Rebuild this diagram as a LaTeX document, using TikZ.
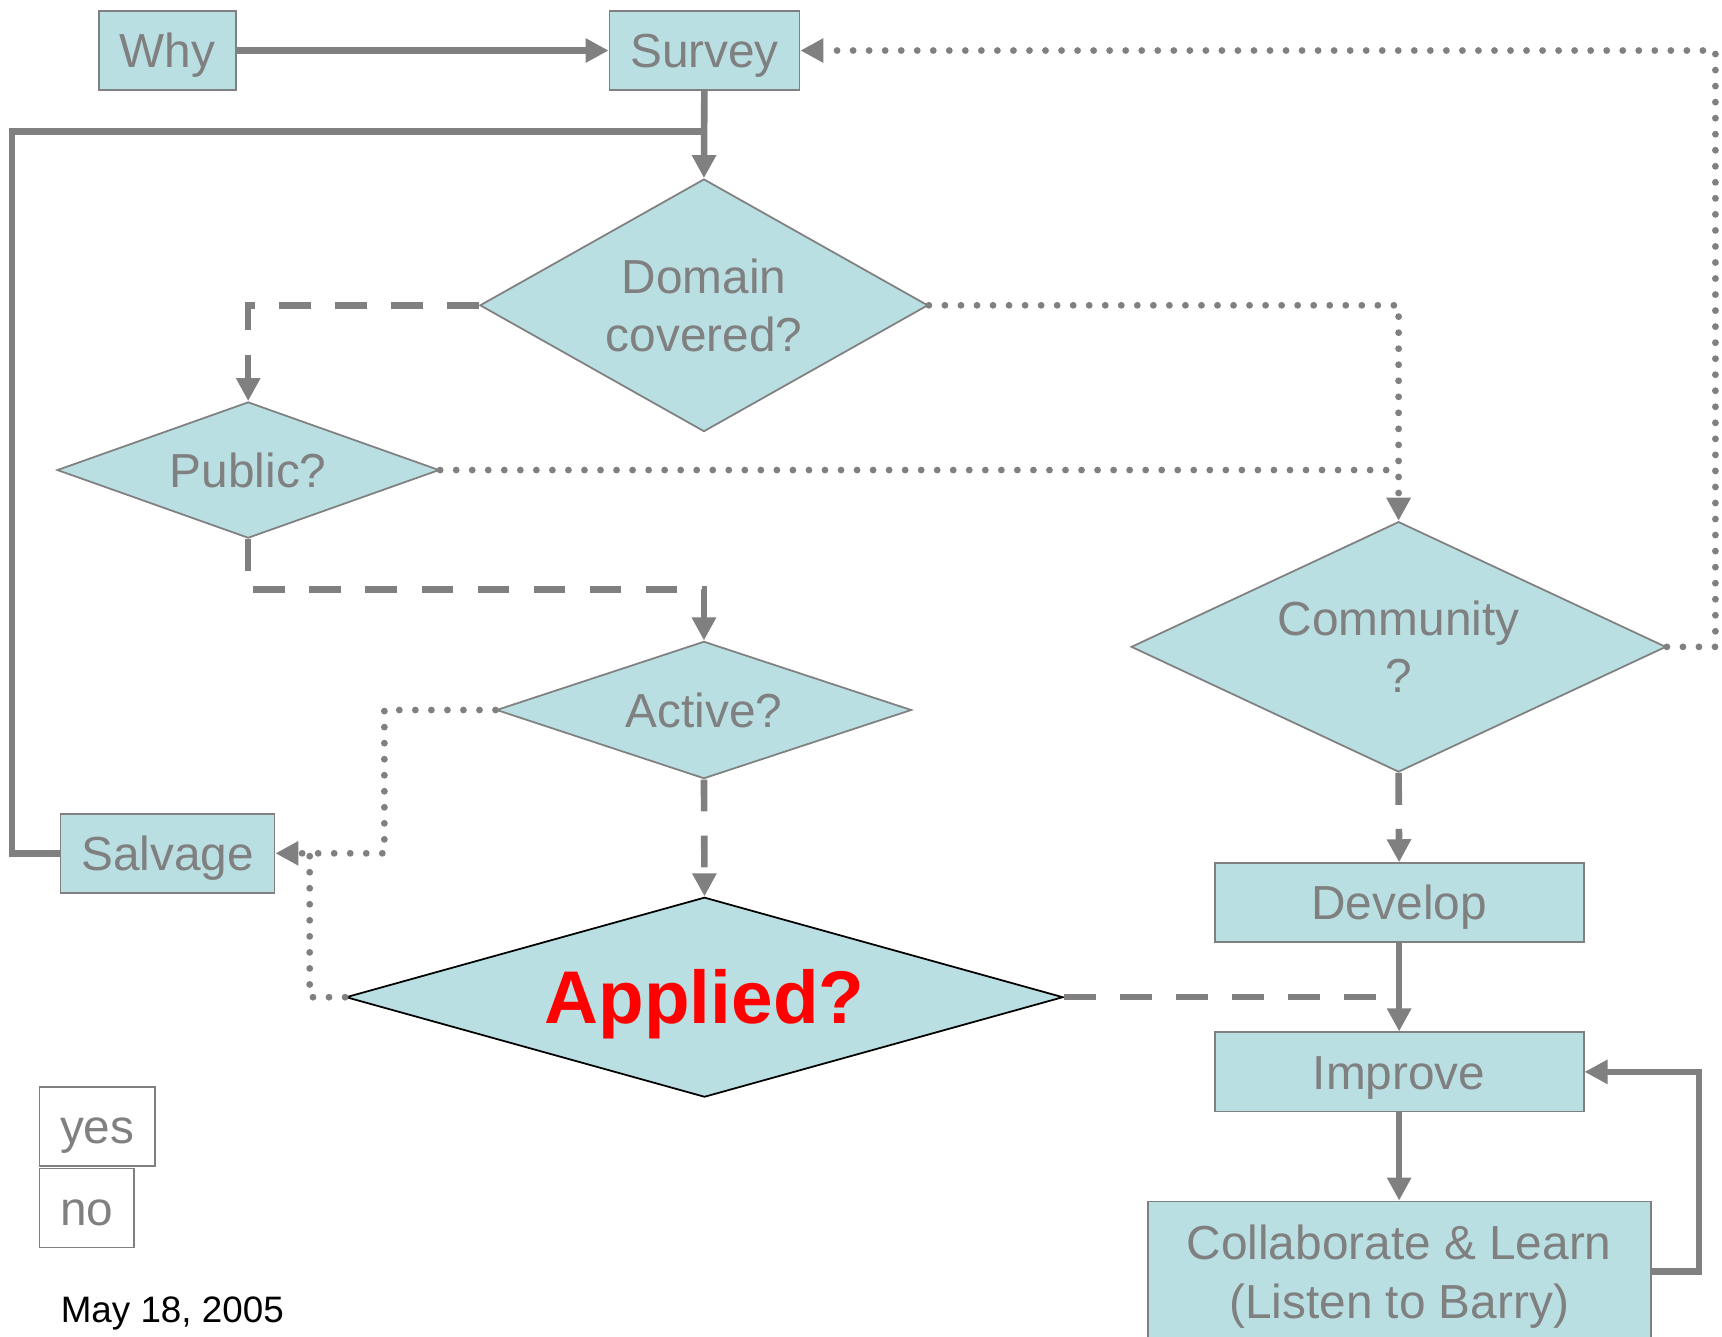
\documentclass[tikz,border=0pt]{standalone}
\usepackage{fontspec}
\setmainfont{Liberation Sans}
\usetikzlibrary{shapes.geometric,arrows.meta}
\definecolor{boxfill}{HTML}{B9DFE2}
\definecolor{ink}{HTML}{808080}
\definecolor{hot}{HTML}{FF0000}

\begin{document}
\begin{tikzpicture}[x=0.5pt,y=-0.5pt,
  txt/.style={font=\fontsize{21.75}{26}\selectfont, text=ink},
  stepbox/.style={txt, draw=ink, line width=0.8pt, fill=boxfill, rectangle,
    inner sep=0pt, text height=15.6pt, text depth=0pt},
  decide/.style={txt, draw=ink, line width=0.8pt, fill=boxfill, diamond,
    inner sep=0pt, align=center, text height=15.6pt, text depth=0pt},
  twoline/.style={align=center, text height=15.6pt+#1, text depth=0pt},
  twoline/.default=26pt,
  legendbox/.style={txt, draw=ink, line width=0.8pt, fill=white, rectangle,
    inner sep=0pt, text height=15.6pt, text depth=0pt},
  tip/.style={-{Triangle[length=10.5pt,width=10.5pt]}},
  solidway/.style={draw=ink, line width=3pt},
  dashway/.style={draw=ink, line width=3pt, dash pattern=on 14.5pt off 11pt},
  dotway/.style={draw=ink, line width=3.1pt, line cap=round, dash pattern=on 0pt off 7.3pt},
]
\useasboundingbox (0,0) rectangle (1568,1217);

% process boxes
\node[stepbox, minimum width=62.5pt, minimum height=36pt] (why) at (152.5,46) {Why};
\node[stepbox, minimum width=86.5pt, minimum height=36pt] (survey) at (641.5,46) {Survey};
\node[stepbox, minimum width=97.5pt, minimum height=36pt] (salvage) at (152.5,777) {Salvage};
\node[stepbox, minimum width=168pt, minimum height=36pt] (develop) at (1274,822) {Develop};
\node[stepbox, minimum width=168pt, minimum height=36pt] (improve) at (1274,976) {Improve};
\node[stepbox, font=\fontsize{21.75}{27}\selectfont, twoline=27pt,
  minimum width=229pt, minimum height=64pt] (collab) at (1274,1158)
  {Collaborate \& Learn\\(Listen to Barry)};

% decisions
\node[decide, twoline, shape aspect=1.774, minimum width=204pt, minimum height=115pt]
  (domain) at (641,278) {Domain\\covered?};
\node[decide, shape aspect=2.8, minimum width=174pt, minimum height=62pt]
  (public) at (226,428) {Public?};
\node[decide, shape aspect=3.0, minimum width=189pt, minimum height=62.5pt]
  (active) at (641,646.5) {Active?};
\node[decide, twoline, shape aspect=2.136, minimum width=243.5pt, minimum height=114pt]
  (community) at (1273.5,589) {Community\\?};
\node[decide, draw=black, font=\bfseries\fontsize{34}{40}\selectfont, text=hot,
  text height=24.3pt, shape aspect=3.59, minimum width=326.5pt, minimum height=91pt]
  (applied) at (641.5,908) {Applied?};

% legend and date
\node[legendbox, minimum width=52.5pt, minimum height=36pt] (yes) at (88.5,1026) {yes};
\node[legendbox, minimum width=43pt, minimum height=36pt] (no) at (79,1100) {no};
\node[anchor=base west, inner sep=0pt, font=\fontsize{16.75}{20}\selectfont]
  (date) at (55,1204) {May 18, 2005};

% junction and corner points
\coordinate (domjoin) at (641,120);
\coordinate (leftcorner) at (11,120);
\coordinate (pubjoin) at (1273.5,428);
\coordinate (pubcorner) at (226,537);
\coordinate (actcorner) at (350,777);
\coordinate (salvjoin) at (282,777);
\coordinate (impjoin) at (1274,908);
\coordinate (topright) at (1562,46);
\coordinate (loopright) at (1547,976);

% solid connectors
\draw[solidway, tip] (why) -- (survey);
\draw[solidway] (salvage.west) -| (leftcorner) -- (domjoin);
\draw[solidway, tip] (survey) -- (domain.north);
\draw[solidway, tip] (develop) -- (improve);
\draw[solidway, tip] (improve) -- (collab);
\draw[solidway, tip] (collab.east) -| (loopright) -- (improve.east);

% dashed connectors
\draw[dashway, tip] (domain.west) -| (public.north);
\draw[dashway, tip] (public.south) -- (pubcorner) -| (active.north);
\draw[dashway, tip] (active.south) -- (applied.north);
\draw[dashway, tip] (community.south) -- (develop.north);
\draw[dashway] (applied.east) -- (impjoin);

% dotted connectors
\draw[dotway, tip] (domain.east) -| (community.north);
\draw[dotway] (public.east) -- (pubjoin);
\draw[dotway, tip] (active.west) -| (actcorner) -- (salvage.east);
\draw[dotway] (applied.west) -| (salvjoin);
\draw[dotway, tip] (community.east) -| (topright) -- (survey.east);
\end{tikzpicture}
\end{document}
